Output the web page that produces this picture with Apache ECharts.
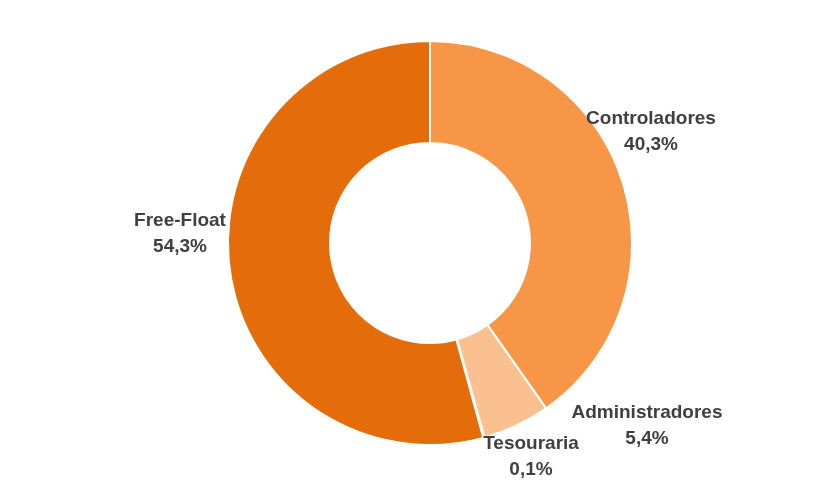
<!DOCTYPE html>
<html>
<head>
<meta charset="utf-8">
<script src="https://cdn.jsdelivr.net/npm/echarts@6/dist/echarts.min.js"></script>
<style>
  html, body { margin: 0; padding: 0; background: #fff; }
  #m1 { width: 818px; height: 489px; }
</style>
</head>
<body>
<div id="m1"></div>
<script>
// dados da composição acionária
var categorias = ['Controladores', 'Administradores', 'Tesouraria', 'Free-Float'];
var valores = [40.3, 5.4, 0.1, 54.3];
var cores = ['#F79646', '#FAC090', '#F2DCDB', '#E46C0A'];

// posição dos rótulos (centro do texto, px)
var rotulos = [[651, 132], [647, 426], [531, 457], [180, 234]];

var myChart = echarts.init(document.getElementById('m1'));
var option = {
    animation: false,
    series: [
        {
            type: 'pie',
            center: [430, 243],
            radius: [100, 202],
            startAngle: 90,
            clockwise: true,
            avoidLabelOverlap: false,
            itemStyle: {
                borderColor: '#ffffff',
                borderWidth: 2
            },
            label: {
                show: true,
                position: 'outside',
                formatter: function (p) {
                    return p.name + '\n' + p.value.toFixed(1).replace('.', ',') + '%';
                },
                fontFamily: 'Liberation Sans, Arial, sans-serif',
                fontWeight: 'bold',
                fontSize: 19,
                lineHeight: 26,
                color: '#404040',
                align: 'center'
            },
            labelLine: { show: false },
            labelLayout: function (params) {
                var pos = rotulos[params.dataIndex];
                return {
                    x: pos[0],
                    y: pos[1],
                    align: 'center',
                    verticalAlign: 'middle'
                };
            },
            data: categorias.map(function (c, i) {
                return { name: c, value: valores[i], itemStyle: { color: cores[i] } };
            })
        }
    ]
};
myChart.setOption(option);
</script>
</body>
</html>
